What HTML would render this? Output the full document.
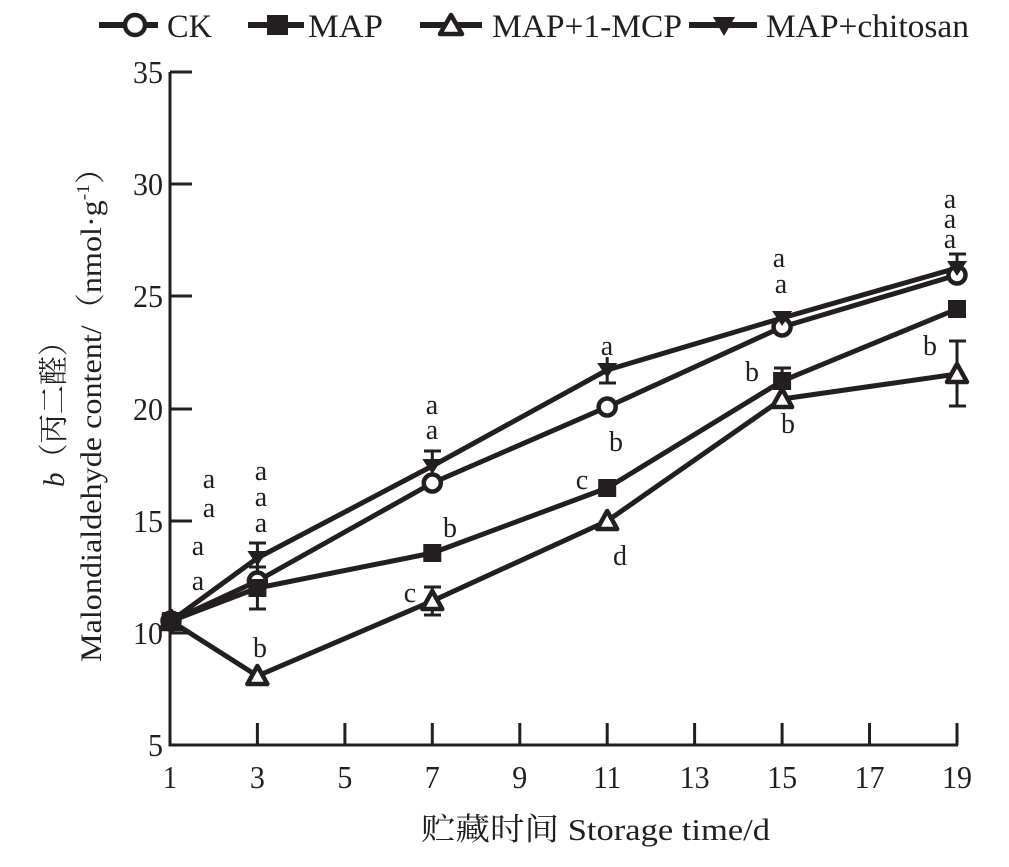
<!DOCTYPE html>
<html>
<head>
<meta charset="utf-8">
<style>
  html, body { margin:0; padding:0; background:#fff; }
  svg { display:block; }
  text { font-family: "Liberation Serif", "Noto Serif CJK SC", serif; fill:#231f20; }
</style>
</head>
<body>
<svg width="1009" height="867" viewBox="0 0 1009 867" xmlns="http://www.w3.org/2000/svg">
  <rect width="1009" height="867" fill="#fff"/>

  <!-- Legend -->
  <g stroke="#231f20" fill="#231f20">
    <line x1="99" y1="25" x2="158" y2="25" stroke-width="6"/>
    <circle cx="135" cy="25" r="10" fill="#fff" stroke-width="4.5"/>
    <line x1="248" y1="25" x2="304" y2="25" stroke-width="6"/>
    <rect x="267" y="15" width="21" height="20" stroke="none"/>
    <line x1="420" y1="25" x2="482" y2="25" stroke-width="6"/>
    <polygon points="451,15 462,34 440,34" fill="#fff" stroke-width="4.5" stroke-linejoin="round"/>
    <line x1="689" y1="25" x2="757" y2="25" stroke-width="6"/>
    <polygon points="713,17 735,17 724,36" stroke="none"/>
  </g>
  <g font-size="33">
    <text x="167" y="37" textLength="45" lengthAdjust="spacingAndGlyphs">CK</text>
    <text x="308" y="37" textLength="75" lengthAdjust="spacingAndGlyphs">MAP</text>
    <text x="492" y="37" textLength="190" lengthAdjust="spacingAndGlyphs">MAP+1-MCP</text>
    <text x="766" y="37" textLength="203" lengthAdjust="spacingAndGlyphs">MAP+chitosan</text>
  </g>

  <!-- Axes -->
  <g stroke="#231f20" stroke-width="3" fill="none">
    <polyline points="170,72 170,745 958,745"/>
    <line x1="170" y1="72" x2="192" y2="72"/>
    <line x1="170" y1="184" x2="192" y2="184"/>
    <line x1="170" y1="296" x2="192" y2="296"/>
    <line x1="170" y1="409" x2="192" y2="409"/>
    <line x1="170" y1="521" x2="192" y2="521"/>
    <line x1="170" y1="633" x2="192" y2="633"/>
    <line x1="257.4" y1="745" x2="257.4" y2="723"/>
    <line x1="344.9" y1="745" x2="344.9" y2="723"/>
    <line x1="432.3" y1="745" x2="432.3" y2="723"/>
    <line x1="519.8" y1="745" x2="519.8" y2="723"/>
    <line x1="607.2" y1="745" x2="607.2" y2="723"/>
    <line x1="694.6" y1="745" x2="694.6" y2="723"/>
    <line x1="782.1" y1="745" x2="782.1" y2="723"/>
    <line x1="869.5" y1="745" x2="869.5" y2="723"/>
    <line x1="957" y1="745" x2="957" y2="723"/>
  </g>

  <!-- y tick labels -->
  <g font-size="32" text-anchor="end">
    <text x="163" y="83" textLength="30" lengthAdjust="spacingAndGlyphs">35</text>
    <text x="163" y="195" textLength="30" lengthAdjust="spacingAndGlyphs">30</text>
    <text x="163" y="307" textLength="30" lengthAdjust="spacingAndGlyphs">25</text>
    <text x="163" y="420" textLength="30" lengthAdjust="spacingAndGlyphs">20</text>
    <text x="163" y="532" textLength="30" lengthAdjust="spacingAndGlyphs">15</text>
    <text x="163" y="644" textLength="30" lengthAdjust="spacingAndGlyphs">10</text>
    <text x="163" y="756" textLength="15" lengthAdjust="spacingAndGlyphs">5</text>
  </g>
  <!-- x tick labels -->
  <g font-size="32" text-anchor="middle">
    <text x="170" y="788" textLength="14" lengthAdjust="spacingAndGlyphs">1</text>
    <text x="257.4" y="788" textLength="15" lengthAdjust="spacingAndGlyphs">3</text>
    <text x="344.9" y="788" textLength="15" lengthAdjust="spacingAndGlyphs">5</text>
    <text x="432.3" y="788" textLength="15" lengthAdjust="spacingAndGlyphs">7</text>
    <text x="519.8" y="788" textLength="15" lengthAdjust="spacingAndGlyphs">9</text>
    <text x="607.2" y="788" textLength="28" lengthAdjust="spacingAndGlyphs">11</text>
    <text x="694.6" y="788" textLength="30" lengthAdjust="spacingAndGlyphs">13</text>
    <text x="782.1" y="788" textLength="30" lengthAdjust="spacingAndGlyphs">15</text>
    <text x="869.5" y="788" textLength="30" lengthAdjust="spacingAndGlyphs">17</text>
    <text x="957" y="788" textLength="30" lengthAdjust="spacingAndGlyphs">19</text>
  </g>

  <!-- x axis title -->
  <text x="421" y="840" font-size="31" textLength="349" lengthAdjust="spacingAndGlyphs">贮藏时间 Storage time/d</text>

  <!-- y axis title -->
  <text transform="translate(64,407) rotate(-90)" text-anchor="middle" font-size="30" textLength="160" lengthAdjust="spacingAndGlyphs"><tspan font-style="italic">b</tspan>（丙二醛）</text>
  <text transform="translate(101,407) rotate(-90)" text-anchor="middle" font-size="30" textLength="510" lengthAdjust="spacingAndGlyphs">Malondialdehyde content/（nmol·g<tspan font-size="18" dy="-12">-1</tspan><tspan dy="12">）</tspan></text>

  <!-- Series lines -->
  <g stroke="#231f20" stroke-width="5" fill="none" stroke-linejoin="round">
    <polyline points="171,621 257.4,581 432.3,483 607.2,407 782.1,327 957,275"/>
    <polyline points="171,621 257.4,588 432.3,553 607.2,488 782.1,381 957,309"/>
    <polyline points="171,621 257.4,676 432.3,601 607.2,521 782.1,399 957,374"/>
    <polyline points="171,621 257.4,558 432.3,466 607.2,370 782.1,318 957,268"/>
  </g>

  <!-- Error bars -->
  <g stroke="#231f20" stroke-width="3" fill="none">
    <path d="M257.4,543 V573 M249,543 H266"/>
    <path d="M257.4,567 V609 M249,609 H266 M249,567 H266"/>
    <path d="M432.3,451 V481 M424,451 H441"/>
    <path d="M432.3,587 V615 M424,587 H441 M424,615 H441"/>
    <path d="M607.2,357 V383 M599,383 H616"/>
    <path d="M782.1,368 V394 M774,368 H791"/>
    <path d="M957,254 V282 M949,254 H966"/>
    <path d="M957,341 V406 M949,341 H966 M949,406 H966"/>
  </g>

  <!-- CK (open circles) -->
  <g stroke="#231f20" stroke-width="4.5" fill="#fff">
    <circle cx="171" cy="621" r="8.5"/>
    <circle cx="257.4" cy="581" r="8.5"/>
    <circle cx="432.3" cy="483" r="8.5"/>
    <circle cx="607.2" cy="407" r="8.5"/>
    <circle cx="782.1" cy="327" r="8.5"/>
    <circle cx="957" cy="275" r="8.5"/>
  </g>
  <!-- 1-MCP (open triangles) -->
  <g stroke="#231f20" stroke-width="4.5" fill="#fff" stroke-linejoin="round">
    <polygon points="171,611 181,629 161,629"/>
    <polygon points="257.4,666 267.4,684 247.4,684"/>
    <polygon points="432.3,591 442.3,609 422.3,609"/>
    <polygon points="607.2,511 617.2,529 597.2,529"/>
    <polygon points="782.1,389 792.1,407 772.1,407"/>
    <polygon points="957,364 967,382 947,382"/>
  </g>
  <!-- MAP (filled squares) -->
  <g fill="#231f20">
    <rect x="162" y="612" width="18" height="18"/>
    <rect x="248.4" y="579" width="18" height="18"/>
    <rect x="423.3" y="544" width="18" height="18"/>
    <rect x="598.2" y="479" width="18" height="18"/>
    <rect x="773.1" y="372" width="18" height="18"/>
    <rect x="948" y="300" width="18" height="18"/>
  </g>
  <!-- chitosan (filled inverted triangles) -->
  <g fill="#231f20">
    <polygon points="161,614 181,614 171,629"/>
    <polygon points="247.4,551 267.4,551 257.4,566"/>
    <polygon points="422.3,459 442.3,459 432.3,474"/>
    <polygon points="597.2,363 617.2,363 607.2,378"/>
    <polygon points="772.1,311 792.1,311 782.1,326"/>
    <polygon points="947,261 967,261 957,276"/>
  </g>

  <!-- Significance letters -->
  <g font-size="28" text-anchor="middle">
    <text x="209" y="488">a</text>
    <text x="209" y="517">a</text>
    <text x="198" y="555">a</text>
    <text x="198" y="590">a</text>
    <text x="261" y="480">a</text>
    <text x="261" y="506">a</text>
    <text x="261" y="532">a</text>
    <text x="260" y="657">b</text>
    <text x="432" y="414">a</text>
    <text x="432" y="439">a</text>
    <text x="450" y="537">b</text>
    <text x="410" y="602">c</text>
    <text x="607" y="355">a</text>
    <text x="616" y="451">b</text>
    <text x="582" y="489">c</text>
    <text x="620" y="565">d</text>
    <text x="779" y="267">a</text>
    <text x="781" y="293">a</text>
    <text x="752" y="381">b</text>
    <text x="788" y="433">b</text>
    <text x="950" y="208">a</text>
    <text x="950" y="228">a</text>
    <text x="950" y="248">a</text>
    <text x="930" y="355">b</text>
  </g>
</svg>
</body>
</html>
